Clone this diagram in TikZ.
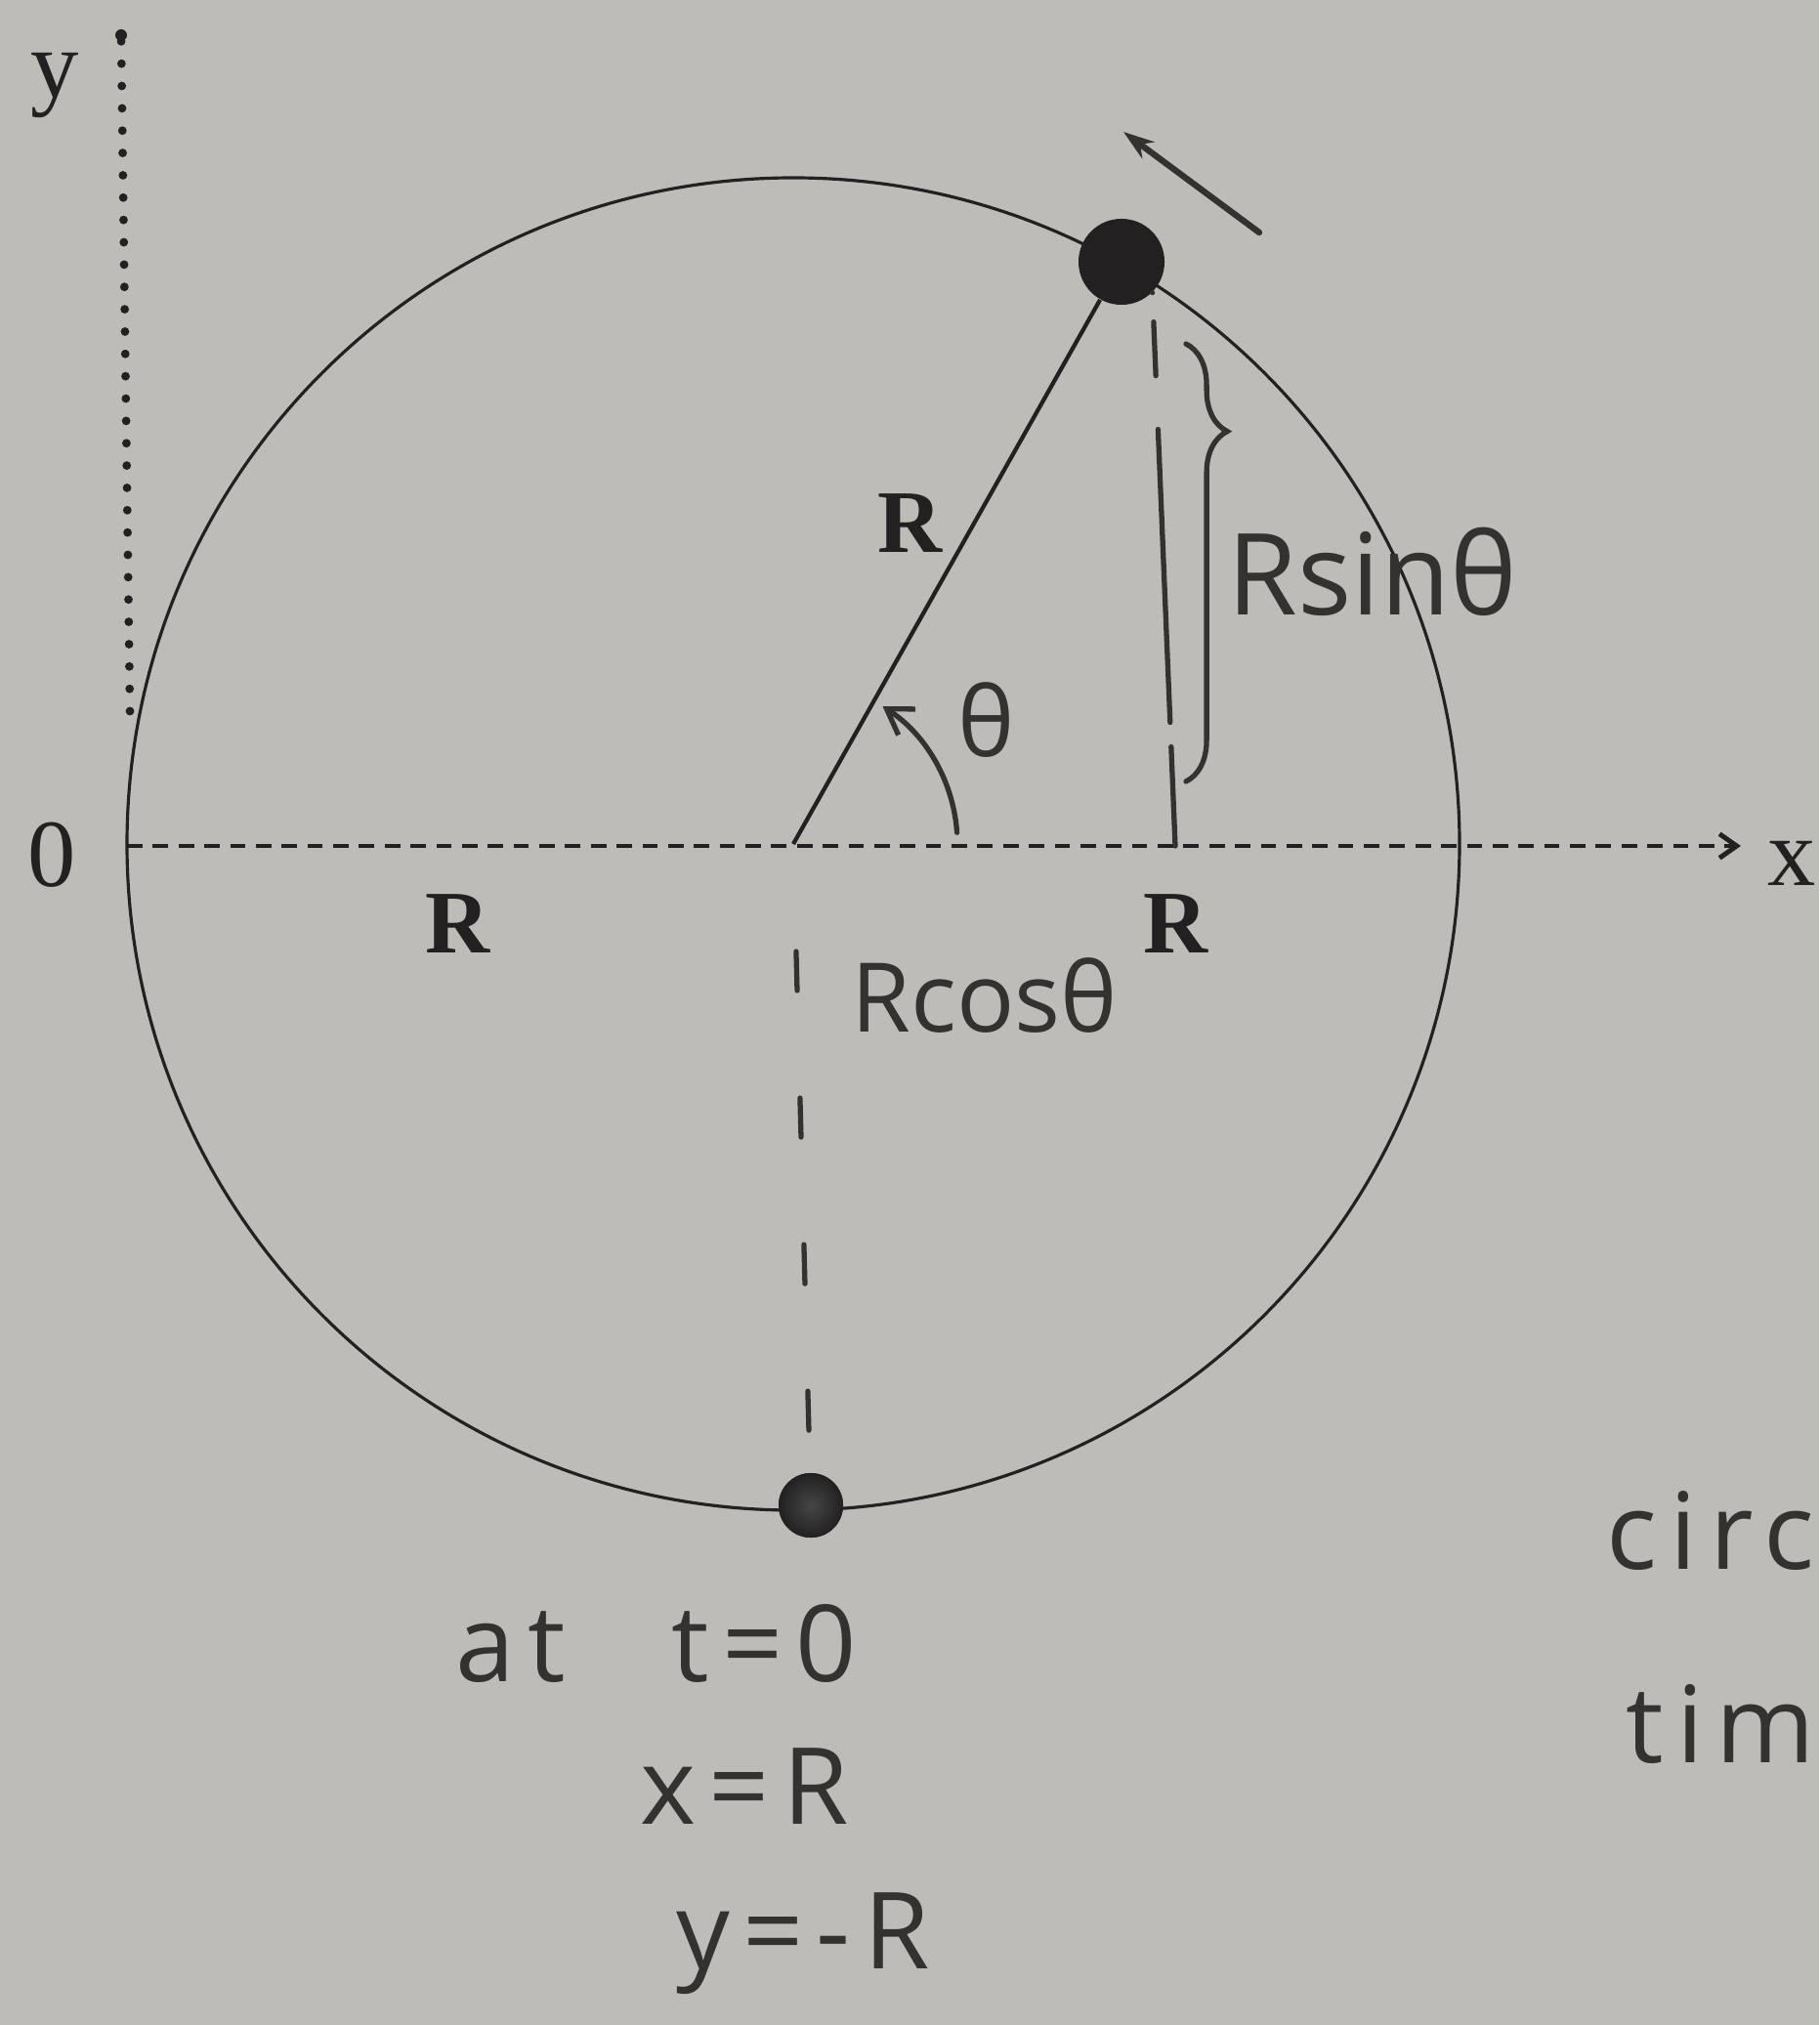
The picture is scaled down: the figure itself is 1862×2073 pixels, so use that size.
\documentclass[tikz,border=0pt]{standalone}
\usepackage{fontspec}
\setmainfont{Liberation Serif}
\newfontfamily\handfont{Open Sans}
\usetikzlibrary{arrows.meta, decorations.pathreplacing, positioning}

\definecolor{paper}{RGB}{190,188,184}
\definecolor{ink}{RGB}{34,32,32}
\definecolor{pencil}{RGB}{52,50,49}

\begin{document}
\begin{tikzpicture}[
    % one unit = one pixel of the sheet, y running downwards
    x=0.01cm, y=-0.01cm,
    >=Stealth,
    % --- Style Definitions ---
    rim/.style={draw=ink, line width=0.9pt},
    spoke/.style={draw=ink, line width=1.2pt},
    xaxis/.style={draw=ink, line width=1.4pt, dash pattern=on 4.5pt off 3pt},
    yaxis/.style={draw=ink, line width=2.5pt, line cap=round, dash pattern=on 0pt off 6.5pt},
    pen/.style={draw=pencil, line width=1.5pt, line cap=round},
    mass/.style={circle, fill=ink, inner sep=0pt},
    typed/.style={font=\fontsize{28}{32}\selectfont, text=ink, inner sep=0pt},
    boldR/.style={font=\fontsize{26}{30}\selectfont\bfseries, text=ink, inner sep=0pt},
    hand/.style={font=\handfont\fontsize{28}{32}\selectfont, text=pencil, inner sep=0pt},
    handbig/.style={hand, font=\handfont\fontsize{33}{36}\selectfont},
    handwide/.style={hand, font=\handfont\fontsize{31}{34}\selectfont\addfontfeature{LetterSpace=12}}
]

% ================= Sheet =================
\fill[paper] (0,0) rectangle (1862,2073);
\useasboundingbox (0,0) rectangle (1862,2073);

% ================= Circle & Axes =================
\coordinate (c) at (812,864);
\draw[rim] (c) circle (682);

\coordinate (xstart) at (130,866);
\coordinate (xend) at (1782,866);
\draw[xaxis, -{Straight Barb[length=5pt, width=7pt]}] (xstart) -- (xend);
\node[typed] (xlab) at (1834,884) {x};

\coordinate (ybase) at (133,728);
\coordinate (ytop) at (124,36);
\draw[yaxis] (ybase) -- (ytop);
\fill[ink] (ytop) circle (6);
\node[typed] (ylab) at (56,88) {y};
\node[typed] (origin) at (53,875) {0};

% ================= Masses =================
\node[mass, minimum size=0.88cm] (top) at (1148,268) {};
\node[mass, minimum size=0.66cm, inner color=gray!55!black, outer color=ink] (bottom) at (830,1541) {};

% radius and angle
\draw[spoke] (c) -- (top);
\draw[pen, -{Straight Barb[length=7pt, width=9pt]}] ([shift={(-4:168)}]c) arc[start angle=-4, end angle=-57, radius=168];
\node[hand] (theta) at (1010,737) {θ};

% tangential velocity
\coordinate (vtail) at (1289,238);
\coordinate (vhead) at (1150,135);
\draw[pen, line width=1.8pt, -{Stealth[length=9pt, width=6pt]}] (vtail) -- (vhead);

% ================= Labels R =================
\node[boldR] (rleft) at (469,946) {R};
\node[boldR] (rright) at (1203,946) {R};
\node[boldR] (rspoke) at (932,536) {R};

% ================= Projections =================
\coordinate (sinfoot) at (1203,866);
\draw[pen, dash pattern=on 0pt off 0.3cm on 0.55cm off 0.55cm on 3cm off 0.25cm on 1.2cm]
    (top.south east) -- (sinfoot);
\draw[pen, decorate, decoration={brace, amplitude=12pt, aspect=0.2}]
    (1214,352) -- (1214,800);
\node[handbig] (rsin) at (1405,585) {Rsinθ};

\draw[pen, dash pattern=on 0.4cm off 1.1cm, dash phase=0.4cm] (c) -- (bottom);
\node[hand] (rcos) at (1008,1019) {Rcosθ};

% ================= Initial position =================
\node[handwide] (att) at (672,1682) {at\quad t=0};
\node[handwide] (xeq) at (762,1829) {x=R};
\node[handwide] (yeq) at (822,1990) {y=-R};

% cut words at the edge
\node[handwide, anchor=west] (circ) at (1644,1567) {circ};
\node[handwide, anchor=west] (tim) at (1664,1765) {tim};

\end{tikzpicture}
\end{document}
